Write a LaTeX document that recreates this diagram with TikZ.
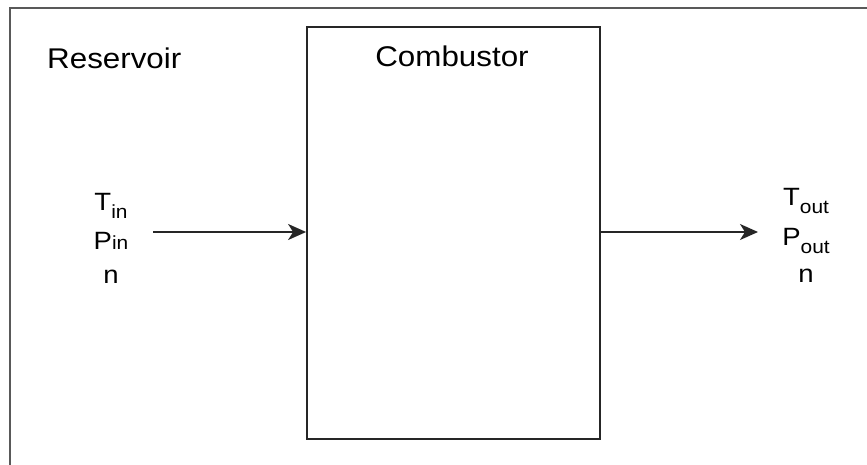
\documentclass[tikz,border=0pt]{standalone}
\usepackage{fontspec}
\setmainfont[FakeStretch=1.1]{Liberation Sans}
\usetikzlibrary{arrows.meta}
\tikzset{
  boxline/.style={draw=black!85, line width=1.8pt},
  outerline/.style={draw=black!65, line width=2pt},
  title/.style={font=\fontsize{28.5}{30}\selectfont, inner sep=0pt, anchor=base},
  lbl/.style={font=\fontsize{25}{27}\selectfont, inner sep=0pt, anchor=base},
  flow/.style={draw=black!85, line width=1.8pt, -{Stealth[length=18pt,width=16pt,inset=5pt]}}
}
\newcommand{\lsub}[1]{\raisebox{-8pt}{\fontsize{19}{19}\selectfont #1}}
\newcommand{\lsmall}[1]{{\fontsize{19}{19}\selectfont #1}}
\begin{document}
\begin{tikzpicture}[x=1pt,y=-1pt]
  \useasboundingbox (0,0) rectangle (867,465);
  % outer reservoir frame (cropped at right and bottom)
  \draw[outerline] (10,470) -- (10,8) -- (875,8);
  \node[title, anchor=base west] (res) at (47,69) {Reservoir};
  % combustor
  \node[boxline, minimum width=293pt, minimum height=412pt, inner sep=0pt] (comb) at (453.5,233) {};
  \node[title] (combl) at (452,67) {Combustor};
  % inlet labels
  \node[lbl] (tin) at (111,211) {T\lsub{in}};
  \node[lbl] (pin) at (111,249) {P\lsmall{in}};
  \node[lbl] (nin) at (111,283) {n};
  % outlet labels
  \node[lbl] (tout) at (806,206) {T\lsub{out}};
  \node[lbl] (pout) at (806,245) {P\lsub{out}};
  \node[lbl] (nout) at (806,282) {n};
  % flows
  \coordinate (inStart) at (153,232);
  \coordinate (outEnd) at (758,232);
  \draw[flow] (inStart) -- (comb.west |- inStart);
  \draw[flow] (comb.east |- outEnd) -- (outEnd);
\end{tikzpicture}
\end{document}
